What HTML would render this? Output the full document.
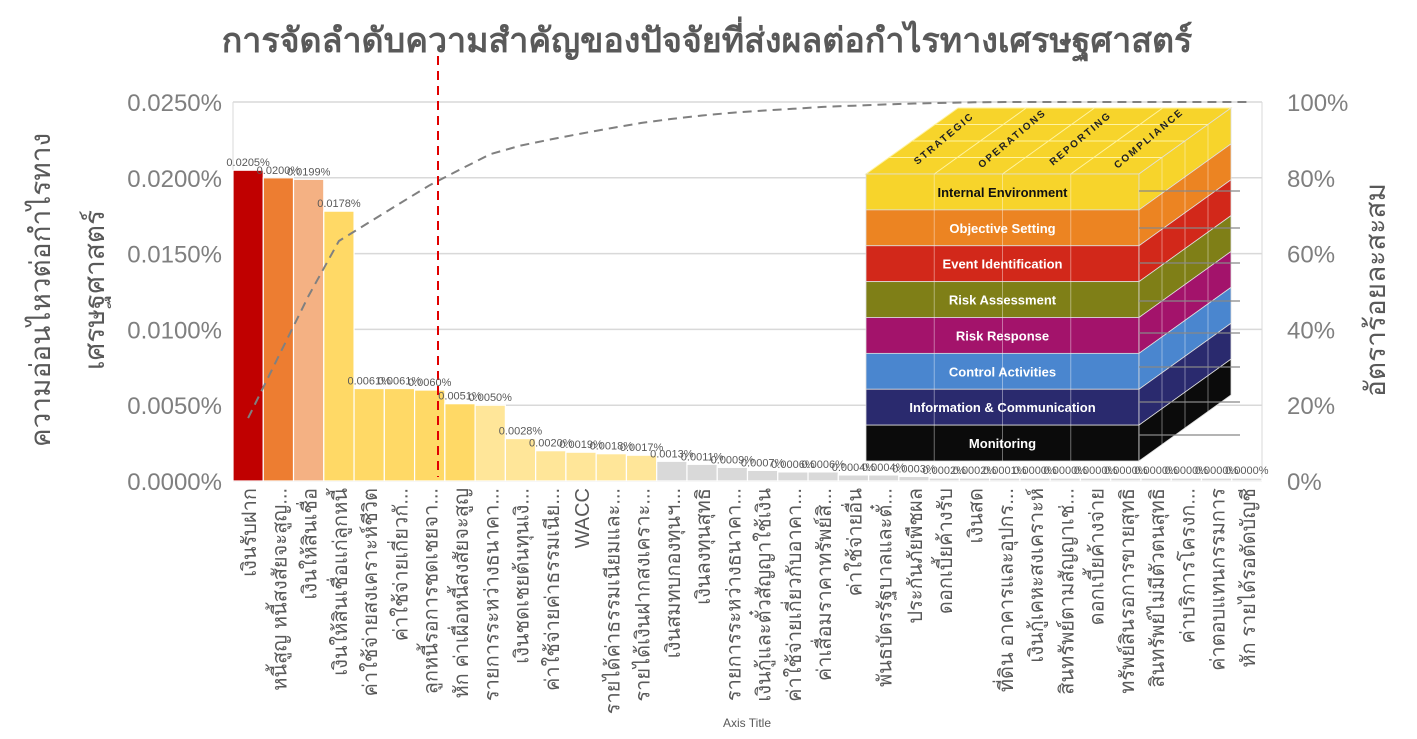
<!DOCTYPE html>
<html><head><meta charset="utf-8"><style>
html,body{margin:0;padding:0;background:#fff;}
svg{display:block;font-family:"Liberation Sans","Noto Sans CJK SC","Noto Sans CJK JP",sans-serif;}
</style></head><body>
<svg id="c" width="1417" height="739" viewBox="0 0 1417 739" xmlns="http://www.w3.org/2000/svg">
<text x="707" y="52" text-anchor="middle" font-size="34" font-weight="bold" fill="#595959">การจัดลำดับความสำคัญของปัจจัยที่ส่งผลต่อกำไรทางเศรษฐศาสตร์</text>
<g id="grid"></g>
<g id="bars"></g>
<g id="cube"></g>
<g id="line"></g>
<line x1="438" y1="56" x2="438" y2="477" stroke="#e00000" stroke-width="2" stroke-dasharray="9,6"/>
<g id="labels"></g>
<text transform="translate(50,290) rotate(-90)" text-anchor="middle" font-size="28" fill="#595959">ความอ่อนไหวต่อกำไรทาง</text>
<text transform="translate(104,290) rotate(-90)" text-anchor="middle" font-size="28" fill="#595959">เศรษฐศาสตร์</text>
<text transform="translate(1385,290) rotate(-90)" text-anchor="middle" font-size="28" fill="#595959">อัตราร้อยละสะสม</text>
<text x="747" y="727" text-anchor="middle" font-size="12" fill="#595959">Axis Title</text>
</svg>
<script>
(function(){
var NS="http://www.w3.org/2000/svg";
function el(p,t,a,txt){var e=document.createElementNS(NS,t);for(var k in a)e.setAttribute(k,a[k]);if(txt!==undefined)e.textContent=txt;p.appendChild(e);return e;}
var vals=[205,200,199,178,61,61,60,51,50,28,20,19,18,17,13,11,9,7,6,6,4,4,3,2,2,1,0,0,0,0,0,0,0,0];
var names=["เงินรับฝาก","หนี้สูญ หนี้สงสัยจะสูญ...","เงินให้สินเชื่อ","เงินให้สินเชื่อแก่ลูกหนี้","ค่าใช้จ่ายสงเคราะห์ชีวิต","ค่าใช้จ่ายเกี่ยวกั...","ลูกหนี้รอการชดเชยจา...","หัก ค่าเผื่อหนี้สงสัยจะสูญ","รายการระหว่างธนาคา...","เงินชดเชยต้นทุนเงิ...","ค่าใช้จ่ายค่าธรรมเนีย...","WACC","รายได้ค่าธรรมเนียมและ...","รายได้เงินฝากสงเคราะ...","เงินสมทบกองทุนฯ...","เงินลงทุนสุทธิ","รายการระหว่างธนาคา...","เงินกู้และตั๋วสัญญาใช้เงิน","ค่าใช้จ่ายเกี่ยวกับอาคา...","ค่าเสื่อมราคาทรัพย์สิ...","ค่าใช้จ่ายอื่น","พันธบัตรรัฐบาลและตั๋...","ประกันภัยพืชผล","ดอกเบี้ยค้างรับ","เงินสด","ที่ดิน อาคารและอุปกร...","เงินกู้เคหะสงเคราะห์","สินทรัพย์ตามสัญญาเช่...","ดอกเบี้ยค้างจ่าย","ทรัพย์สินรอการขายสุทธิ","สินทรัพย์ไม่มีตัวตนสุทธิ","ค่าบริการโครงก...","ค่าตอบแทนกรรมการ","หัก รายได้รอตัดบัญชี"];
var X0=233,X1=1262,Y0=481,YT=102,W=(X1-X0)/34,H=Y0-YT;
var g=document.getElementById("grid");
for(var i=0;i<=5;i++){var y=Y0-i*H/5;
 el(g,"line",{x1:X0,x2:X1,y1:y,y2:y,stroke:"#d9d9d9","stroke-width":1.5});
 el(g,"text",{x:222,y:y+9,"text-anchor":"end","font-size":24,fill:"#7f7f7f"},(i*0.005).toFixed(4)+"%");
 el(g,"text",{x:1287,y:y+9,"font-size":24,fill:"#7f7f7f"},(i*20)+"%");}
el(g,"line",{x1:X0,x2:X0,y1:YT,y2:Y0,stroke:"#d9d9d9"});
el(g,"line",{x1:X1,x2:X1,y1:YT,y2:Y0,stroke:"#d9d9d9"});
var b=document.getElementById("bars"),L=document.getElementById("labels");
var tot=0;vals.forEach(function(v){tot+=v;});
var cum=0,pts=[];
vals.forEach(function(v,i){
 var c=i==0?"#c00000":i==1?"#ed7d31":i==2?"#f4b183":i<8?"#ffd966":i<14?"#ffe699":"#d9d9d9";
 var h=v/250*H; if(h<3)h=3;
 var x=X0+i*W;
 el(b,"rect",{x:x,y:Y0-h,width:W,height:h,fill:c,stroke:"#fff","stroke-width":1.2});
 el(L,"text",{x:x+W/2,y:Y0-h-4,"text-anchor":"middle","font-size":11,fill:"#595959"},(v/10000).toFixed(4)+"%");
 el(L,"text",{transform:"translate("+(x+W/2+8)+",488) rotate(-90)","text-anchor":"end","font-size":20,fill:"#595959"},names[i]);
 cum+=v; pts.push((x+W/2).toFixed(1)+","+(Y0-cum/tot*H).toFixed(1));
});
el(document.getElementById("line"),"polyline",{points:pts.join(" "),fill:"none",stroke:"#808080","stroke-width":2,"stroke-dasharray":"9,6"});
var cu=document.getElementById("cube");
var fx0=866,fx1=1139,dx=92,dy=-66,ty=174;
var layers=[["Internal Environment","#f7d42b","#111"],["Objective Setting","#ec8422","#fff"],["Event Identification","#d2281a","#fff"],["Risk Assessment","#7f7f17","#fff"],["Risk Response","#a3136b","#fff"],["Control Activities","#4a86cf","#fff"],["Information & Communication","#2a2a6e","#fff"],["Monitoring","#0b0b0b","#fff"]];
var lh=(461-ty)/8;
el(cu,"polygon",{points:fx0+","+ty+" "+fx1+","+ty+" "+(fx1+dx)+","+(ty+dy)+" "+(fx0+dx)+","+(ty+dy),fill:"#f7d42b",stroke:"#fff3a0"});
for(var k=1;k<4;k++){var t=k/4;
 el(cu,"line",{x1:fx0+(fx1-fx0)*t,y1:ty,x2:fx0+(fx1-fx0)*t+dx,y2:ty+dy,stroke:"#fff3a0"});
 el(cu,"line",{x1:fx0+dx*t,y1:ty+dy*t,x2:fx1+dx*t,y2:ty+dy*t,stroke:"#fff3a0"});}
["STRATEGIC","OPERATIONS","REPORTING","COMPLIANCE"].forEach(function(s,k){
 var cx=fx0+(fx1-fx0)*(k+0.5)/4+dx/2, cy=ty+dy/2;
 el(cu,"text",{transform:"translate("+cx+","+cy+") rotate(-40)","text-anchor":"middle","font-size":10,"font-weight":"bold",fill:"#222","letter-spacing":"2"},s);});
layers.forEach(function(l,i){
 var y=ty+i*lh;
 el(cu,"rect",{x:fx0,y:y,width:fx1-fx0,height:lh,fill:l[1],stroke:"#ddd","stroke-width":0.8});
 el(cu,"polygon",{points:fx1+","+y+" "+(fx1+dx)+","+(y+dy)+" "+(fx1+dx)+","+(y+lh+dy)+" "+fx1+","+(y+lh),fill:l[1],stroke:"#ddd","stroke-width":0.8});
 for(var k=1;k<4;k++){var xx=fx0+(fx1-fx0)*k/4;el(cu,"line",{x1:xx,x2:xx,y1:y,y2:y+lh,stroke:"rgba(255,255,255,0.4)"});}
 el(cu,"text",{x:(fx0+fx1)/2,y:y+lh/2+5,"text-anchor":"middle","font-size":13,"font-weight":"bold",fill:l[2]},l[0]);
});
for(var k=1;k<4;k++){var t=k/4;el(cu,"line",{x1:fx1+dx*t,y1:ty+dy*t,x2:fx1+dx*t,y2:461+dy*t,stroke:"rgba(255,255,255,0.4)"});}
[191,228,263,301,333,367,402,435].forEach(function(y){el(cu,"line",{x1:fx1,x2:1240,y1:y,y2:y,stroke:"#888","stroke-width":1.2});});
})();
</script>
</body></html>
